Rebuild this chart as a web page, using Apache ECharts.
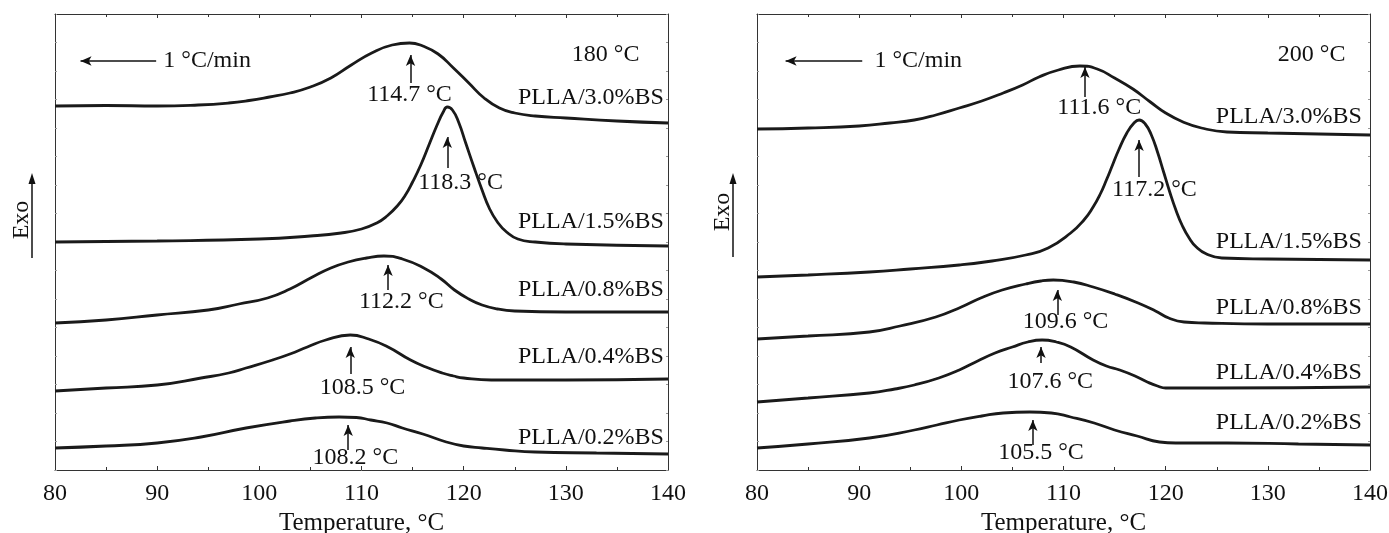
<!DOCTYPE html>
<html><head><meta charset="utf-8">
<script src="https://cdn.jsdelivr.net/npm/echarts@6/dist/echarts.min.js"></script>
<style>html,body{margin:0;padding:0;background:#fff}#c{width:1389px;height:533px}</style>
</head><body><div id="c"></div>
<script>
// ---------------- DATA ----------------
const xTicks = [80, 90, 100, 110, 120, 130, 140];
const curveNames = ['PLLA/0.2%BS', 'PLLA/0.4%BS', 'PLLA/0.8%BS', 'PLLA/1.5%BS', 'PLLA/3.0%BS'];
const panelTitles = ['180 °C', '200 °C'];
const rateText = '1 °C/min';
const xName = 'Temperature, °C';
const yName = 'Exo';

// Left panel (180 °C): [temperature °C, heat flow (arb. units, offset curves)]
const L02 = [[80,22],[85,24],[90,27],[94.3,33],[98.7,42],[103,49],[105.5,52],[107.8,53],[109.5,52.5],[110.9,50],[112.5,47],[114,42],[116,36],[118.3,28],[120,24],[121.8,22],[124,20],[127,18],[133,17],[140,16]];
const L04 = [[80,79],[85,82],[90,85],[94.3,92],[97,97],[98.7,102],[101.3,110],[103,116],[104.7,123],[106.5,130],[108.9,135],[110.7,131],[112.6,123],[114.8,110],[116.3,103],[117.9,97],[119,94],[120,92],[122.7,90],[130,90],[140,91]];
const L08 = [[80,147],[85,150],[90,155],[95,160],[98,166],[100.8,172],[103,181],[105.2,193],[107,202],[108.7,208],[110.5,212],[112.2,214],[114,211],[116.1,202],[117.8,191],[119.1,180],[120.5,171],[121.8,165],[123.3,161],[125,159],[130,158],[140,158]];
const L15 = [[80,228],[90,229],[100,231],[105,234],[108,237],[110,241],[111.5,247],[112.5,254],[113.5,264],[114.3,275],[115,288],[115.8,305],[116.6,325],[117.4,345],[118,358],[118.4,363],[118.9,360],[119.5,348],[120.2,327],[121,303],[121.8,280],[122.5,262],[123.3,248],[124.2,238],[125.3,231],[127,228],[130,226],[140,224]];
const L30 = [[80,364],[85,364.5],[90,364],[94,365],[97,367],[99,369.5],[101,373],[103,377],[105,383],[107,392],[109,405],[111,417],[113,425],[114.7,427],[116,424],[117.5,416],[119,402],[120.5,387],[122,372],[123.5,362],[125,357],[127,354],[130,352],[135,349],[140,347]];
const leftPeaks = [108.2, 108.5, 112.2, 118.3, 114.7];

// Right panel (200 °C)
const R02 = [[80,22],[85,26],[91,32],[95.4,40],[97.6,45],[99.8,50],[102,54],[104.1,57],[106.7,58],[108.8,57],[110.7,53],[113,47],[115,40],[117.2,34],[119.4,28],[121,27],[126,27],[133,26],[140,25]];
const R04 = [[80,68],[85,72],[91,77],[93.5,81],[95.4,85],[97.8,92],[99.8,100],[101.6,109],[103.3,117],[105,123],[106.5,128],[107.9,130],[109.3,128],[110.7,123],[112.9,110],[114.2,104],[115.5,100],[117,94],[118.2,88],[119.2,84],[120,82],[125,82],[140,83]];
const R08 = [[80,131],[85,134],[91,138],[94,144],[97.5,153],[100,163],[101.9,172],[104,180],[106.3,186],[107.8,189],[109,190],[111,188],[112.9,183],[115,176],[117.3,167],[119,159],[120.3,152],[121.8,148],[123.8,147],[130,146],[140,146]];
const R15 = [[80,193],[85,195],[91,198],[95,201],[99.8,205],[103,209],[106.3,215],[108.5,222],[110.7,237],[112,250],[112.9,263],[113.6,276],[114.2,290],[114.8,305],[115.4,320],[116.2,337],[116.9,347],[117.4,350],[118,346],[118.6,335],[119.2,318],[119.8,298],[120.4,278],[121,260],[121.6,245],[122.3,232],[123,223],[124,216],[125.5,212],[130,211],[140,210]];
const R30 = [[80,341],[85,342],[90,344],[93,347],[95.4,350],[97.5,355],[99.8,362],[102,369],[104.1,377],[106,385],[107.6,393],[109.5,400],[111.6,404],[113.3,401],[115,392],[116.8,381],[118.5,368],[120,357],[121.7,348],[123.5,342],[126,338],[130,337],[140,335]];
const rightPeaks = [105.5, 107.6, 109.6, 117.2, 111.6];

// ---------------- LAYOUT (annotation placement) ----------------
const FONT = 'Liberation Serif';
const panels = [
  { grid: {left: 55, right: 721, top: 14, bottom: 63},
    curves: [L02, L04, L08, L15, L30], peaks: leftPeaks,
    arrowX: [108.7, 108.9, 112.6, 118.4, 114.8],
    arrowY: [[20,45],[96,123],[180,205],[302,333],[387,415]],
    labelPos: [[109.4,12],[110.1,82],[113.9,168],[119.7,287],[114.7,375]],
    nameY: [32, 113, 180, 248, 372], nameX: 139.6,
    titlePos: [137.2, 415], rateArrow: [[89.9,409],[82.5,409]], ratePos: [90.6, 409] },
  { grid: {left: 757, right: 19, top: 14, bottom: 63},
    curves: [R02, R04, R08, R15, R30], peaks: rightPeaks,
    arrowX: [107.0, 107.8, 109.4, 117.4, 112.1],
    arrowY: [[25,50],[107,123],[155,180],[293,330],[373,403]],
    labelPos: [[107.8,17],[108.7,88],[110.2,148],[118.9,280],[113.5,362]],
    nameY: [47, 97, 162, 228, 353], nameX: 139.2,
    titlePos: [137.6, 415], rateArrow: [[90.3,409],[82.8,409]], ratePos: [91.5, 409] }
];

const axisCol = '#333';
const txtCol = '#111';
const xAxes = [], yAxes = [], grids = [], series = [];
panels.forEach((p, i) => {
  grids.push(Object.assign({show: false, containLabel: false, outerBoundsMode: 'none'}, p.grid));
  const xBase = {gridIndex: i, type: 'value', min: xTicks[0], max: xTicks[xTicks.length-1], interval: 10,
    axisLine: {show: true, onZero: false, lineStyle: {color: axisCol, width: 1}},
    axisTick: {show: true, inside: true, length: 4, lineStyle: {color: axisCol}},
    minorTick: {show: true, splitNumber: 2, length: 3, lineStyle: {color: axisCol}},
    splitLine: {show: false}, minorSplitLine: {show: false}};
  xAxes.push(Object.assign({}, xBase, {position: 'bottom',
    axisLabel: {show: true, margin: 12, fontFamily: FONT, fontSize: 24, color: txtCol},
    name: xName, nameLocation: 'middle', nameGap: 41,
    nameTextStyle: {fontFamily: FONT, fontSize: 25, color: txtCol}}));
  xAxes.push(Object.assign({}, xBase, {position: 'top', axisLabel: {show: false}}));
  const yBase = {gridIndex: i, type: 'value', min: 0, max: 456, interval: 28.5,
    axisLine: {show: true, onZero: false, lineStyle: {color: axisCol, width: 1}},
    axisTick: {show: true, inside: true, length: 2, lineStyle: {color: '#999'}},
    axisLabel: {show: false}, splitLine: {show: false}};
  yAxes.push(Object.assign({}, yBase, {position: 'left'}));
  yAxes.push(Object.assign({}, yBase, {position: 'right'}));
  const xi = i * 2, yi = i * 2;
  p.curves.forEach((data, k) => {
    const s = {type: 'line', xAxisIndex: xi, yAxisIndex: yi, data: data, smooth: 0.5,
      showSymbol: false, symbol: 'none', lineStyle: {color: '#1a1a1a', width: 2.8}, silent: true,
      markLine: {silent: true, symbol: ['none', 'arrow'], symbolSize: [7, 11], animation: false,
        lineStyle: {color: '#111', width: 1.5, type: 'solid'}, label: {show: false},
        data: [[{coord: [p.arrowX[k], p.arrowY[k][0]]}, {coord: [p.arrowX[k], p.arrowY[k][1]]}]]}};
    if (k === 4) {
      s.markLine.data.push([{coord: p.rateArrow[0]}, {coord: p.rateArrow[1]}]);
    }
    series.push(s);
  });
  // text labels
  const txt = [];
  p.peaks.forEach((v, k) => txt.push({value: p.labelPos[k], t: v.toFixed(1) + ' °C', a: 'center'}));
  curveNames.forEach((n, k) => txt.push({value: [p.nameX, p.nameY[k]], t: n, a: 'right'}));
  txt.push({value: p.titlePos, t: panelTitles[i], a: 'right'});
  txt.push({value: p.ratePos, t: rateText, a: 'left'});
  series.push({type: 'scatter', xAxisIndex: xi, yAxisIndex: yi, symbolSize: 0, silent: true,
    itemStyle: {opacity: 1},
    data: txt.map(d => ({value: d.value, label: {show: true, position: [0, 0], align: d.a,
      verticalAlign: 'middle', formatter: d.t, fontFamily: FONT, fontSize: 24, color: txtCol}}))});
});

const exo = [{tx: 22, ty: 220, ax: 32, y1: 258, y2: 173}, {tx: 723, ty: 212, ax: 733, y1: 257, y2: 173}];
const graphic = [];
exo.forEach(e => {
  graphic.push({type: 'text', x: e.tx, y: e.ty, rotation: Math.PI / 2,
    style: {text: yName, font: '24px "' + FONT + '"', fill: txtCol, align: 'center', verticalAlign: 'middle'}});
  graphic.push({type: 'line', shape: {x1: e.ax, y1: e.y1, x2: e.ax, y2: e.y2 + 8}, style: {stroke: '#111', lineWidth: 1.5}});
  graphic.push({type: 'polygon', shape: {points: [[e.ax, e.y2], [e.ax - 3.5, e.y2 + 11], [e.ax + 3.5, e.y2 + 11]]}, style: {fill: '#111'}});
});

const chart = echarts.init(document.getElementById('c'), null, {renderer: 'canvas'});
chart.setOption({animation: false, backgroundColor: '#fff', grid: grids, xAxis: xAxes, yAxis: yAxes, series: series, graphic: graphic});
</script></body></html>
